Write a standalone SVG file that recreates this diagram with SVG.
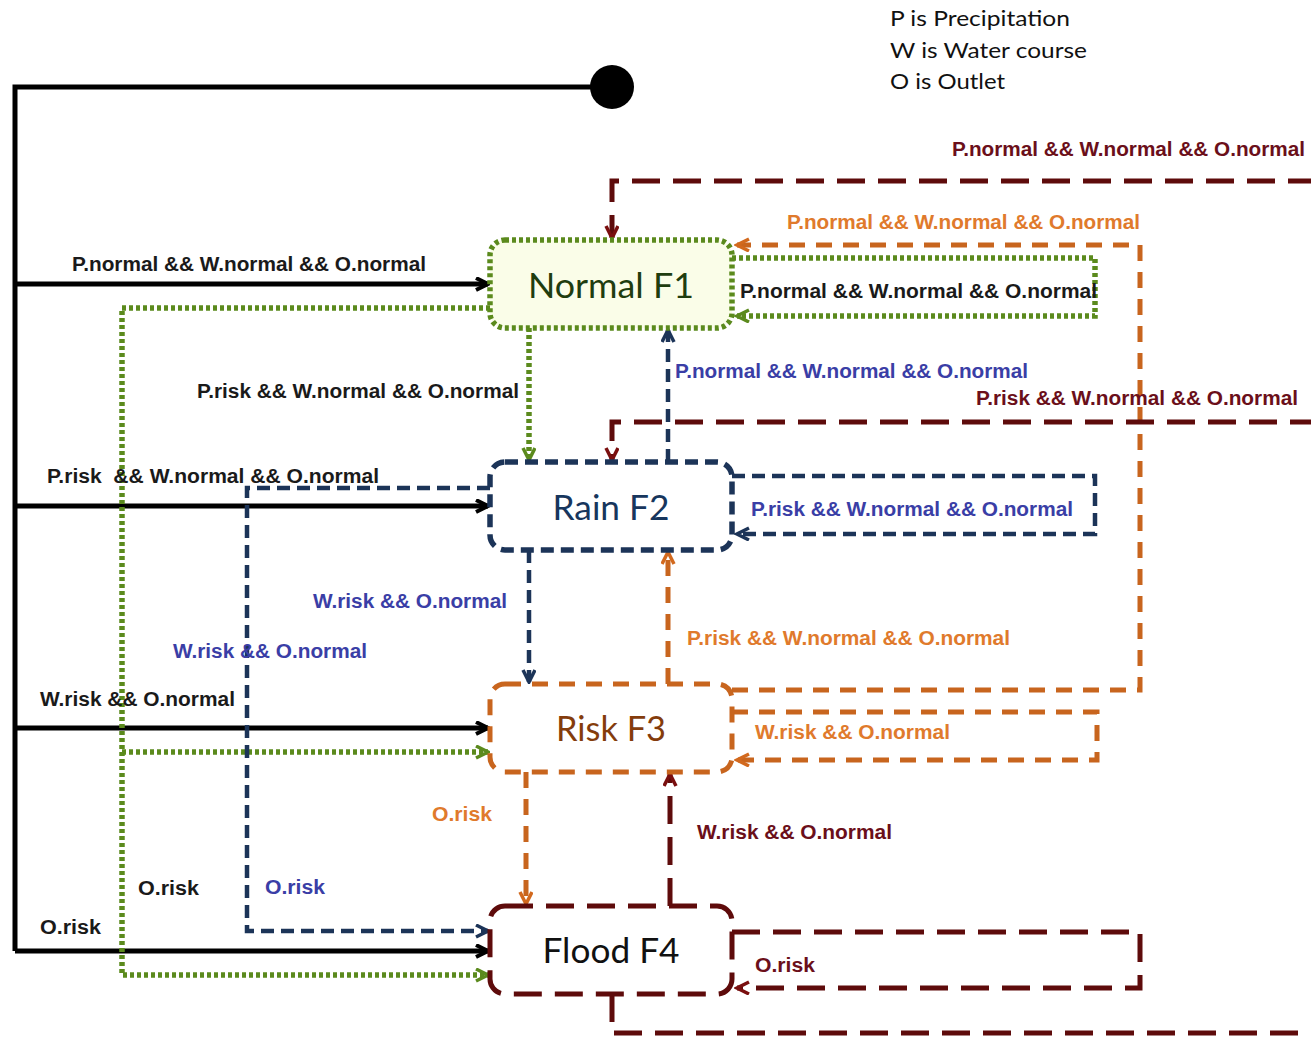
<svg xmlns="http://www.w3.org/2000/svg" width="1311" height="1040" viewBox="0 0 1311 1040">
  <style>
    .lbl { font-family: "Liberation Sans", Arial, sans-serif; font-weight: bold; font-size: 20px; }
    .k { fill: #1a1a1a; }
    .b { fill: #3a3ea6; }
    .o { fill: #e07a2c; }
    .r { fill: #6b0f1a; }
    .node-text { font-family: Lato, "Open Sans", sans-serif; font-size: 35px; text-anchor: middle; }
    .legend { font-family: Lato, "Open Sans", sans-serif; font-size: 22px; fill: #111; }
    .solid { fill: none; stroke: #000; stroke-width: 5; }
    .green { fill: none; stroke: #5b8a1d; stroke-width: 5.5; stroke-dasharray: 4 3; }
    .navy { fill: none; stroke: #1c3458; stroke-width: 4.5; stroke-dasharray: 13 7; }
    .orange { fill: none; stroke: #c8651e; stroke-width: 5; stroke-dasharray: 16 11; }
    .red { fill: none; stroke: #5e0b0b; stroke-width: 5; stroke-dasharray: 28 13; }
  </style>
  <defs>
    <marker id="ah-black" markerUnits="userSpaceOnUse" markerWidth="16" markerHeight="16" refX="13" refY="7" orient="auto">
      <path d="M1,1 L13,7 L1,13" fill="none" stroke="#000" stroke-width="4"/>
    </marker>
    <marker id="ah-green" markerUnits="userSpaceOnUse" markerWidth="16" markerHeight="16" refX="13" refY="7" orient="auto">
      <path d="M1,1 L13,7 L1,13" fill="none" stroke="#5b8a1d" stroke-width="3.5"/>
    </marker>
    <marker id="ah-navy" markerUnits="userSpaceOnUse" markerWidth="16" markerHeight="16" refX="13" refY="7" orient="auto">
      <path d="M1,1 L13,7 L1,13" fill="none" stroke="#1c3458" stroke-width="3.5"/>
    </marker>
    <marker id="ah-orange" markerUnits="userSpaceOnUse" markerWidth="16" markerHeight="16" refX="13" refY="7" orient="auto">
      <path d="M1,1 L13,7 L1,13" fill="none" stroke="#d2691e" stroke-width="3.5"/>
    </marker>
    <marker id="ah-red" markerUnits="userSpaceOnUse" markerWidth="16" markerHeight="16" refX="13" refY="7" orient="auto">
      <path d="M1,1 L13,7 L1,13" fill="none" stroke="#7a0f0f" stroke-width="3.5"/>
    </marker>
  </defs>

  <rect width="1311" height="1040" fill="#fff"/>

  <!-- legend -->
  <g id="legend" class="legend">
    <text x="890" y="26" textLength="180" lengthAdjust="spacingAndGlyphs">P is Precipitation</text>
    <text x="890" y="58" textLength="197" lengthAdjust="spacingAndGlyphs">W is Water course</text>
    <text x="890" y="89" textLength="115" lengthAdjust="spacingAndGlyphs">O is Outlet</text>
  </g>

  <!-- initial pseudo-state -->
  <g id="start">
    <circle cx="612" cy="87" r="22" fill="#000"/>
  </g>

  <!-- transitions -->
  <g id="connectors">
    <!-- from the initial state -->
    <path class="solid" d="M612,87 H15 V951"/>
    <path class="solid" d="M15,284 H488" marker-end="url(#ah-black)"/>
    <path class="solid" d="M15,506 H488" marker-end="url(#ah-black)"/>
    <path class="solid" d="M15,728 H488" marker-end="url(#ah-black)"/>
    <path class="solid" d="M15,951 H488" marker-end="url(#ah-black)"/>

    <!-- from Normal F1 -->
    <path class="green" d="M732,258 H1095 V316 H737" marker-end="url(#ah-green)"/>
    <path class="green" d="M529,328 V460" marker-end="url(#ah-green)"/>
    <path class="green" d="M490,308 H122 V975 H488" marker-end="url(#ah-green)"/>
    <path class="green" d="M122,752 H488" marker-end="url(#ah-green)"/>

    <!-- from Rain F2 -->
    <path class="navy" d="M668,462 V330" marker-end="url(#ah-navy)"/>
    <path class="navy" d="M732,476 H1095 V534 H737" marker-end="url(#ah-navy)"/>
    <path class="navy" d="M529,550 V682" marker-end="url(#ah-navy)"/>
    <path class="navy" d="M490,488 H247 V931 H488" marker-end="url(#ah-navy)"/>

    <!-- from Risk F3 -->
    <path class="orange" d="M732,690 H1140 V245 H737" marker-end="url(#ah-orange)"/>
    <path class="orange" d="M668,684 V552" marker-end="url(#ah-orange)"/>
    <path class="orange" d="M732,712 H1097 V760 H737" marker-end="url(#ah-orange)"/>
    <path class="orange" d="M526,772 V904" marker-end="url(#ah-orange)"/>

    <!-- from Flood F4: the long return runs past the right edge -->
    <path class="red" d="M612,994 V1033 H1318 V181 H612 V238" marker-end="url(#ah-red)"/>
    <path class="red" d="M1318,422 H612 V460" marker-end="url(#ah-red)"/>
    <path class="red" d="M670,906 V774" marker-end="url(#ah-red)"/>
    <path class="red" d="M732,932 H1140 V988 H737" marker-end="url(#ah-red)"/>
  </g>

  <!-- states -->
  <g id="normal-f1">
    <rect x="490" y="240" width="242" height="88" rx="15" fill="#fafde8" stroke="#5b8a1d" stroke-width="5.5" stroke-dasharray="4 3"/>
    <text class="node-text" x="611" y="298" fill="#1f3d0f" textLength="166" lengthAdjust="spacingAndGlyphs">Normal F1</text>
  </g>
  <g id="rain-f2">
    <rect x="490" y="462" width="242" height="88" rx="15" fill="#fff" stroke="#1c3458" stroke-width="5.5" stroke-dasharray="13 7"/>
    <text class="node-text" x="611" y="520" fill="#17365d" textLength="117" lengthAdjust="spacingAndGlyphs">Rain F2</text>
  </g>
  <g id="risk-f3">
    <rect x="490" y="684" width="242" height="88" rx="15" fill="#fff" stroke="#c8651e" stroke-width="5" stroke-dasharray="16 11"/>
    <text class="node-text" x="611" y="741" fill="#843c0c" textLength="110" lengthAdjust="spacingAndGlyphs">Risk F3</text>
  </g>
  <g id="flood-f4">
    <rect x="490" y="906" width="242" height="88" rx="15" fill="#fff" stroke="#5e0b0b" stroke-width="5" stroke-dasharray="28 13"/>
    <text class="node-text" x="611" y="963" fill="#111" textLength="137" lengthAdjust="spacingAndGlyphs">Flood F4</text>
  </g>

  <!-- guard labels -->
  <g id="labels" class="lbl">
    <text class="k" x="72" y="271" textLength="354" lengthAdjust="spacingAndGlyphs">P.normal &amp;&amp; W.normal &amp;&amp; O.normal</text>
    <text class="k" x="197" y="398" textLength="322" lengthAdjust="spacingAndGlyphs">P.risk &amp;&amp; W.normal &amp;&amp; O.normal</text>
    <text class="k" x="47" y="483" textLength="332" lengthAdjust="spacingAndGlyphs" xml:space="preserve">P.risk  &amp;&amp; W.normal &amp;&amp; O.normal</text>
    <text class="k" x="40" y="706" textLength="195" lengthAdjust="spacingAndGlyphs">W.risk &amp;&amp; O.normal</text>
    <text class="k" x="138" y="895" textLength="61" lengthAdjust="spacingAndGlyphs">O.risk</text>
    <text class="k" x="40" y="934" textLength="61" lengthAdjust="spacingAndGlyphs">O.risk</text>
    <text class="k" x="740" y="298" textLength="357" lengthAdjust="spacingAndGlyphs">P.normal &amp;&amp; W.normal &amp;&amp; O.normal</text>

    <text class="b" x="675" y="378" textLength="353" lengthAdjust="spacingAndGlyphs">P.normal &amp;&amp; W.normal &amp;&amp; O.normal</text>
    <text class="b" x="751" y="516" textLength="322" lengthAdjust="spacingAndGlyphs">P.risk &amp;&amp; W.normal &amp;&amp; O.normal</text>
    <text class="b" x="313" y="608" textLength="194" lengthAdjust="spacingAndGlyphs">W.risk &amp;&amp; O.normal</text>
    <text class="b" x="173" y="658" textLength="194" lengthAdjust="spacingAndGlyphs">W.risk &amp;&amp; O.normal</text>
    <text class="b" x="265" y="894" textLength="60" lengthAdjust="spacingAndGlyphs">O.risk</text>

    <text class="o" x="787" y="229" textLength="353" lengthAdjust="spacingAndGlyphs">P.normal &amp;&amp; W.normal &amp;&amp; O.normal</text>
    <text class="o" x="687" y="645" textLength="323" lengthAdjust="spacingAndGlyphs">P.risk &amp;&amp; W.normal &amp;&amp; O.normal</text>
    <text class="o" x="755" y="739" textLength="195" lengthAdjust="spacingAndGlyphs">W.risk &amp;&amp; O.normal</text>
    <text class="o" x="432" y="821" textLength="60" lengthAdjust="spacingAndGlyphs">O.risk</text>

    <text class="r" x="952" y="156" textLength="353" lengthAdjust="spacingAndGlyphs">P.normal &amp;&amp; W.normal &amp;&amp; O.normal</text>
    <text class="r" x="976" y="405" textLength="322" lengthAdjust="spacingAndGlyphs">P.risk &amp;&amp; W.normal &amp;&amp; O.normal</text>
    <text class="r" x="697" y="839" textLength="195" lengthAdjust="spacingAndGlyphs">W.risk &amp;&amp; O.normal</text>
    <text class="r" x="755" y="972" textLength="60" lengthAdjust="spacingAndGlyphs">O.risk</text>
  </g>
</svg>
